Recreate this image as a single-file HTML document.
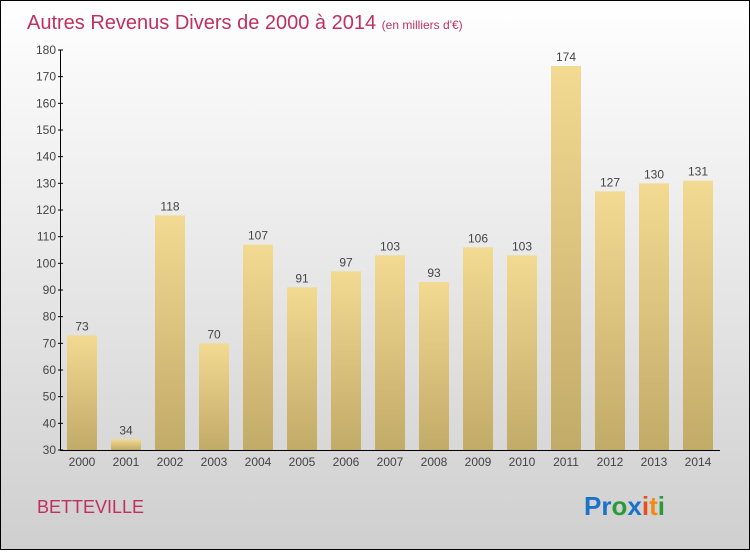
<!DOCTYPE html>
<html><head><meta charset="utf-8"><style>
html,body{margin:0;padding:0;}
body{width:750px;height:550px;overflow:hidden;font-family:"Liberation Sans",sans-serif;}
</style></head><body>
<svg id="chart" width="750" height="550" xmlns="http://www.w3.org/2000/svg">
<defs>
<linearGradient id="bg" x1="0" y1="0" x2="0" y2="1"><stop offset="0" stop-color="#ffffff"/><stop offset="1" stop-color="#cfcfcf"/></linearGradient>
<linearGradient id="bar" x1="0" y1="0" x2="0" y2="1"><stop offset="0" stop-color="#f3da92"/><stop offset="1" stop-color="#c2aa68"/></linearGradient>
</defs>
<rect x="0.5" y="0.5" width="749" height="549" fill="url(#bg)" stroke="#000"/>
<text x="27" y="29" font-size="20" fill="#c0305f">Autres Revenus Divers de 2000 à 2014 <tspan font-size="12">(en milliers d'€)</tspan></text>
<g id="bars"></g>
<g id="axes"></g>
<text x="37" y="513" font-size="18" fill="#c0305f">BETTEVILLE</text>
<text x="584" y="515" font-size="26" font-weight="bold"><tspan fill="#1a73c9">Pr</tspan><tspan fill="#2a9a3a">o</tspan><tspan fill="#1a73c9">x</tspan><tspan fill="#e8501a">i</tspan><tspan fill="#f08a10">t</tspan><tspan fill="#2a9a3a">i</tspan></text>
</svg>
<script>
const years=["2000","2001","2002","2003","2004","2005","2006","2007","2008","2009","2010","2011","2012","2013","2014"];
const values=[73,34,118,70,107,91,97,103,93,106,103,174,127,130,131];
const yTicks=[30,40,50,60,70,80,90,100,110,120,130,140,150,160,170,180];
const NS="http://www.w3.org/2000/svg";
const y=v=>450-(v-30)*400/150;
const x=i=>82+i*44;
function mk(t,a,p){const e=document.createElementNS(NS,t);for(const k in a)e.setAttribute(k,a[k]);p.appendChild(e);return e;}
const gb=document.getElementById('bars'),ga=document.getElementById('axes');
values.forEach((v,i)=>{
 const r=mk('rect',{x:x(i)-15,y:y(v),width:30,height:450-y(v),fill:'url(#bar)'},gb);
 
 
 const t=mk('text',{x:x(i),y:y(v)-5,'text-anchor':'middle','font-size':12,fill:'#444'},gb);
 t.textContent=v;
 
 
 const l=mk('text',{x:x(i),y:466,'text-anchor':'middle','font-size':12,fill:'#444'},ga);
 l.textContent=years[i];
 
 
});
const ax=mk('path',{d:'M60.5 50 V450.5 H720',stroke:'#000',fill:'none'},ga);


yTicks.forEach(v=>{
 mk('line',{x1:58,x2:63,y1:y(v),y2:y(v),stroke:'#000'},ga);
 const t=mk('text',{x:56,y:y(v)+4,'text-anchor':'end','font-size':12,fill:'#444'},ga);
 t.textContent=v;
 
 
});
</script>
</body></html>
